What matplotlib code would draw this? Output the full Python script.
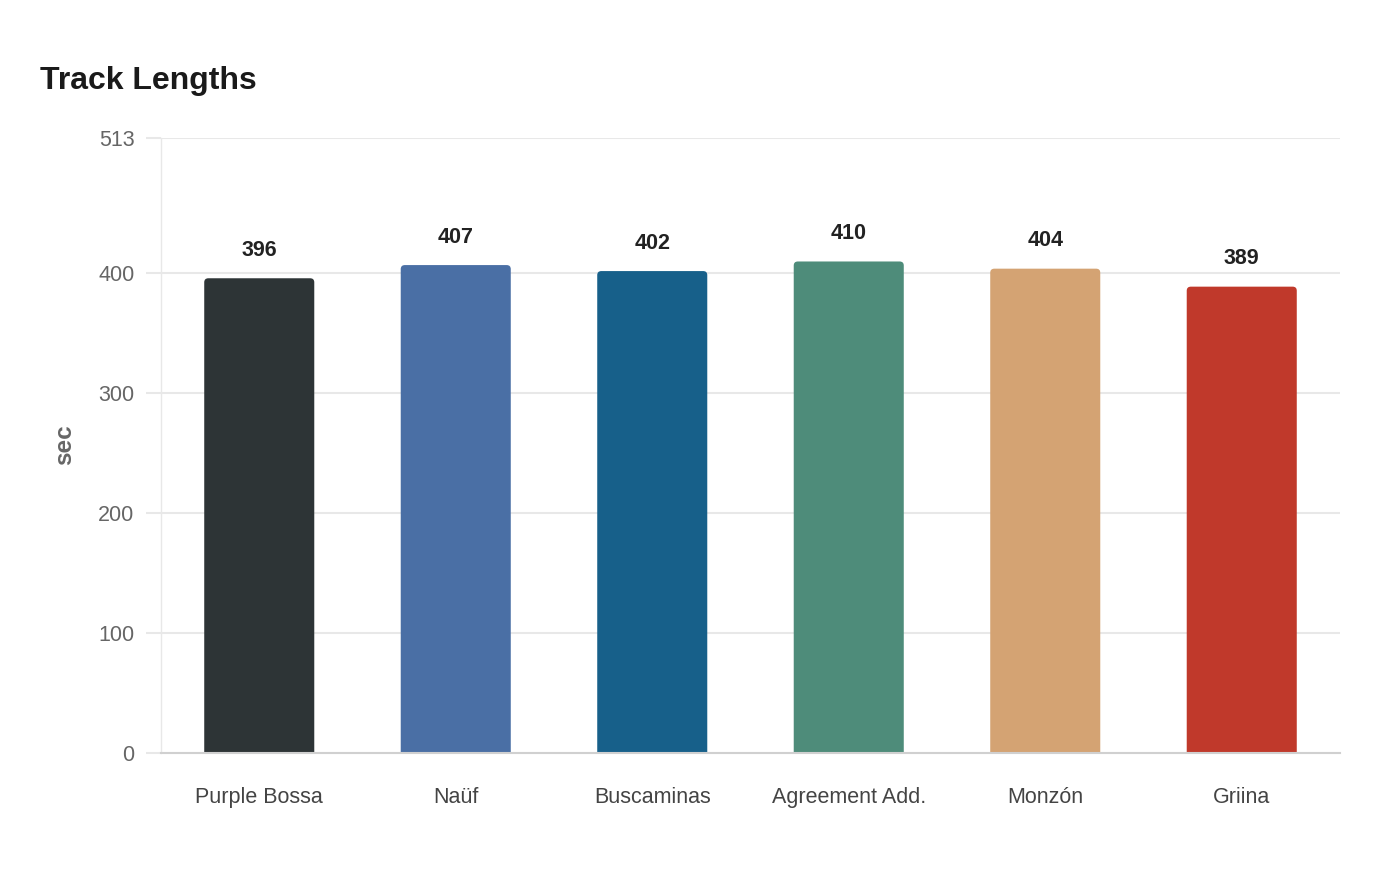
import matplotlib.pyplot as plt
from matplotlib.patches import PathPatch
from matplotlib.path import Path

plt.rcParams['font.family'] = ['Liberation Sans', 'DejaVu Sans']

# data
tracks = ['Purple Bossa', 'Naüf', 'Buscaminas', 'Agreement Add.', 'Monzón', 'Griina']
seconds = [396, 407, 402, 410, 404, 389]
colors = ['#2d3436', '#4a6fa5', '#17608a', '#4e8c7a', '#d4a373', '#c0392b']
yticks = [0, 100, 200, 300, 400, 513]

fig = plt.figure(figsize=(14, 8.8), dpi=100)
ax = fig.add_axes([161 / 1400, 1 - 753 / 880, 1179 / 1400, 615 / 880])

bars = ax.bar(range(len(tracks)), seconds, width=0.56, color=colors, zorder=3)
ax.set_xlim(-0.5, len(tracks) - 0.5)
ax.set_ylim(0, 513)

# rounded top corners: swap each bar for a path with curved top corners
rx = 0.021
ry = 3.4
for b, c in zip(bars, colors):
    b.set_visible(False)
    x, w, h = b.get_x(), b.get_width(), b.get_height()
    verts = [(x, 0), (x, h - ry), (x, h), (x + rx, h), (x + w - rx, h),
             (x + w, h), (x + w, h - ry), (x + w, 0), (x, 0)]
    codes = [Path.MOVETO, Path.LINETO, Path.CURVE3, Path.CURVE3, Path.LINETO,
             Path.CURVE3, Path.CURVE3, Path.LINETO, Path.CLOSEPOLY]
    ax.add_patch(PathPatch(Path(verts, codes), fc=c, ec='none', zorder=3))

# value labels
for i, v in enumerate(seconds):
    ax.annotate(str(v), (i, v), xytext=(0, 20), textcoords='offset points',
                ha='center', va='center', fontsize=15.5, fontweight='bold', color='#222222')

ax.set_yticks(yticks)
ax.set_xticks(range(len(tracks)))
ax.set_xticklabels(tracks)
ax.grid(axis='y', color='#e8e8e8', linewidth=1.5, zorder=0)
ax.tick_params(axis='y', length=11, width=1.5, color='#e8e8e8', pad=8, labelsize=15.5, labelcolor='#666666')
ax.tick_params(axis='x', length=0, pad=24.5, labelsize=15.5, labelcolor='#444444')

for s in ['top', 'right']:
    ax.spines[s].set_visible(False)
ax.spines['left'].set_color('#e8e8e8')
ax.spines['left'].set_linewidth(1)
ax.spines['bottom'].set_color('#d0d0d0')
ax.spines['bottom'].set_linewidth(1.5)
ax.spines['bottom'].set_zorder(4)

fig.text(40 / 1400, 1 - 81 / 880, 'Track Lengths', fontsize=23, fontweight='bold',
         color='#1a1a1a', ha='left', va='center')
fig.text(65 / 1400, 1 - 445 / 880, 'sec', fontsize=17.5, fontweight='bold',
         color='#666666', rotation=90, ha='center', va='center')

fig.savefig('out.png', dpi=100)
